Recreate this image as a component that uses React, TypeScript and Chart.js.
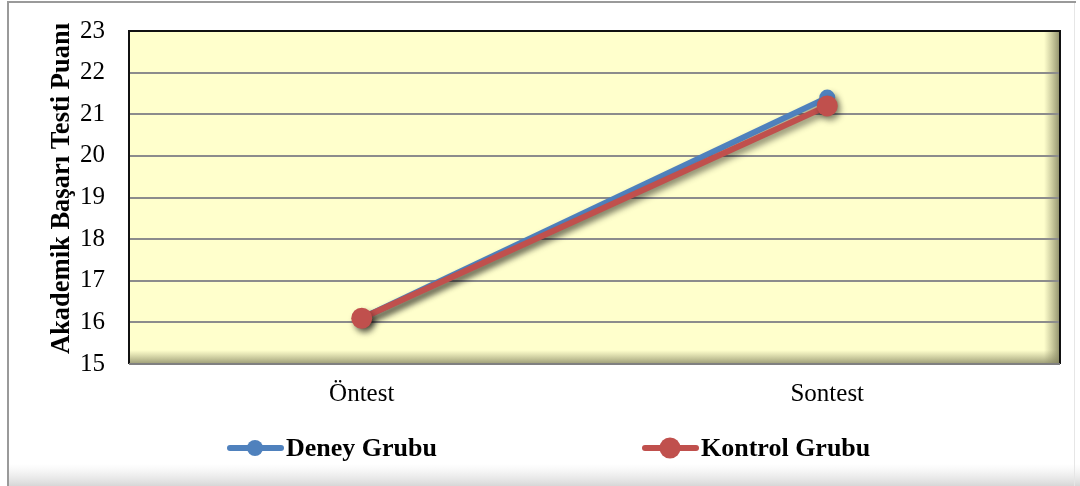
import React, { useEffect, useRef } from "react";
import { Chart, registerables } from "chart.js";

Chart.register(...registerables);

const categories = ["Öntest", "Sontest"];
const deneyValues = [16.1, 21.4];
const kontrolValues = [16.1, 21.2];
const seriesLabels = ["Deney Grubu", "Kontrol Grubu"];
const yTitle = "Akademik Başarı Testi Puanı";

const BLUE = "#4F81BD";
const RED = "#C0504D";
const SERIF = "'Liberation Serif', 'Times New Roman', serif";

const framePlugin = {
  id: "frame",
  beforeDraw(chart: any) {
    const { ctx, width, height, chartArea: a } = chart;
    ctx.save();
    ctx.fillStyle = "#ffffff";
    ctx.fillRect(0, 0, width, height);
    const g = ctx.createLinearGradient(0, height - 22, 0, height);
    g.addColorStop(0, "rgba(230,230,230,0)");
    g.addColorStop(1, "rgba(215,215,215,1)");
    ctx.fillStyle = g;
    ctx.fillRect(8, height - 22, width - 8, 22);
    ctx.strokeStyle = "#9a9a9a";
    ctx.lineWidth = 2;
    ctx.beginPath();
    ctx.moveTo(8, height);
    ctx.lineTo(8, 2);
    ctx.lineTo(width - 4, 2);
    ctx.stroke();
    ctx.strokeStyle = "#e6e6e6";
    ctx.lineWidth = 1;
    ctx.beginPath();
    ctx.moveTo(width - 5.5, 3);
    ctx.lineTo(width - 5.5, height);
    ctx.stroke();

    ctx.fillStyle = "#FFFFCC";
    ctx.fillRect(a.left, a.top, a.right - a.left, a.bottom - a.top);
    const gr = ctx.createLinearGradient(a.right - 16, 0, a.right, 0);
    gr.addColorStop(0, "rgba(150,150,110,0)");
    gr.addColorStop(1, "rgba(130,130,95,0.9)");
    ctx.fillStyle = gr;
    ctx.fillRect(a.right - 16, a.top, 16, a.bottom - a.top);
    const gb = ctx.createLinearGradient(0, a.bottom - 14, 0, a.bottom);
    gb.addColorStop(0, "rgba(150,150,110,0)");
    gb.addColorStop(1, "rgba(130,130,95,0.8)");
    ctx.fillStyle = gb;
    ctx.fillRect(a.left, a.bottom - 14, a.right - a.left, 14);
    ctx.restore();
  },
  beforeDatasetsDraw(chart: any) {
    const { ctx, chartArea: a } = chart;
    ctx.save();
    ctx.strokeStyle = "#111111";
    ctx.lineWidth = 2;
    ctx.beginPath();
    ctx.moveTo(a.left, a.bottom);
    ctx.lineTo(a.left, a.top);
    ctx.lineTo(a.right, a.top);
    ctx.lineTo(a.right, a.bottom);
    ctx.stroke();
    ctx.strokeStyle = "#808080";
    ctx.beginPath();
    ctx.moveTo(a.left, a.bottom);
    ctx.lineTo(a.right, a.bottom);
    ctx.stroke();
    ctx.restore();

    ctx.save();
    ctx.shadowColor = "rgba(0,0,0,0.45)";
    ctx.shadowBlur = 6;
    ctx.shadowOffsetX = 3;
    ctx.shadowOffsetY = 4;
  },
  afterDatasetsDraw(chart: any) {
    chart.ctx.restore();
  },
};

const titlePlugin = {
  id: "yTitle",
  afterDraw(chart: any) {
    const { ctx, chartArea: a } = chart;
    ctx.save();
    ctx.translate(62, (a.top + a.bottom) / 2 - 9);
    ctx.rotate(-Math.PI / 2);
    ctx.fillStyle = "#000";
    ctx.font = `bold 26.5px ${SERIF}`;
    ctx.textAlign = "center";
    ctx.textBaseline = "middle";
    ctx.fillText(yTitle, 0, 0);
    ctx.restore();
  },
};

const legendPlugin = {
  id: "customLegend",
  afterDraw(chart: any) {
    const { ctx } = chart;
    const xs = [227, 642];
    const y = 448;
    ctx.save();
    chart.data.datasets.forEach((ds: any, i: number) => {
      const x = xs[i];
      ctx.strokeStyle = ds.borderColor;
      ctx.lineWidth = 6;
      ctx.lineCap = "round";
      ctx.beginPath();
      ctx.moveTo(x + 3, y);
      ctx.lineTo(x + 54, y);
      ctx.stroke();
      ctx.fillStyle = ds.borderColor;
      ctx.beginPath();
      ctx.arc(x + 28, y, ds.pointRadius, 0, Math.PI * 2);
      ctx.fill();
      ctx.fillStyle = "#000";
      ctx.font = `bold 26px ${SERIF}`;
      ctx.textBaseline = "middle";
      ctx.textAlign = "left";
      ctx.fillText(ds.label, x + 59, y + 1);
    });
    ctx.restore();
  },
};

export default function App() {
  const ref = useRef<HTMLCanvasElement>(null);
  useEffect(() => {
    if (!ref.current) return;
    const chart = new Chart(ref.current, {
      type: "line",
      data: {
        labels: categories,
        datasets: [
          {
            label: seriesLabels[0],
            data: deneyValues,
            borderColor: BLUE,
            backgroundColor: BLUE,
            pointBackgroundColor: BLUE,
            pointBorderColor: BLUE,
            pointBorderWidth: 0,
            borderWidth: 6,
            pointRadius: 8,
            pointHoverRadius: 8,
            order: 1,
          },
          {
            label: seriesLabels[1],
            data: kontrolValues,
            borderColor: RED,
            backgroundColor: RED,
            pointBackgroundColor: RED,
            pointBorderColor: RED,
            pointBorderWidth: 0,
            borderWidth: 6,
            pointRadius: 10.5,
            pointHoverRadius: 10.5,
            order: 0,
          },
        ],
      },
      options: {
        animation: false,
        responsive: false,
        maintainAspectRatio: false,
        layout: { padding: { top: 31, right: 20, left: 0, bottom: 0 } },
        plugins: {
          legend: { display: false },
          tooltip: { enabled: false },
        },
        scales: {
          x: {
            offset: true,
            grid: { display: false, drawTicks: false },
            border: { display: false },
            ticks: {
              color: "#000",
              padding: 15,
              font: { family: SERIF, size: 25 },
            },
            afterFit(scale: any) {
              scale.height = 122;
              scale.paddingLeft = 0;
              scale.paddingRight = 0;
            },
          },
          y: {
            min: 15,
            max: 23,
            grid: { color: "#8c8c8c", lineWidth: 2, drawTicks: false },
            border: { display: false },
            ticks: {
              stepSize: 1,
              color: "#000",
              padding: 24,
              font: { family: SERIF, size: 25 },
            },
            afterFit(scale: any) {
              scale.width = 129;
              scale.paddingTop = 0;
              scale.paddingBottom = 0;
            },
          },
        },
      },
      plugins: [framePlugin, titlePlugin, legendPlugin],
    });
    return () => chart.destroy();
  }, []);
  return (
    <div style={{ position: "absolute", left: 0, top: 0, width: 1080, height: 486 }}>
      <canvas ref={ref} width={1080} height={486} style={{ display: "block" }} />
    </div>
  );
}
